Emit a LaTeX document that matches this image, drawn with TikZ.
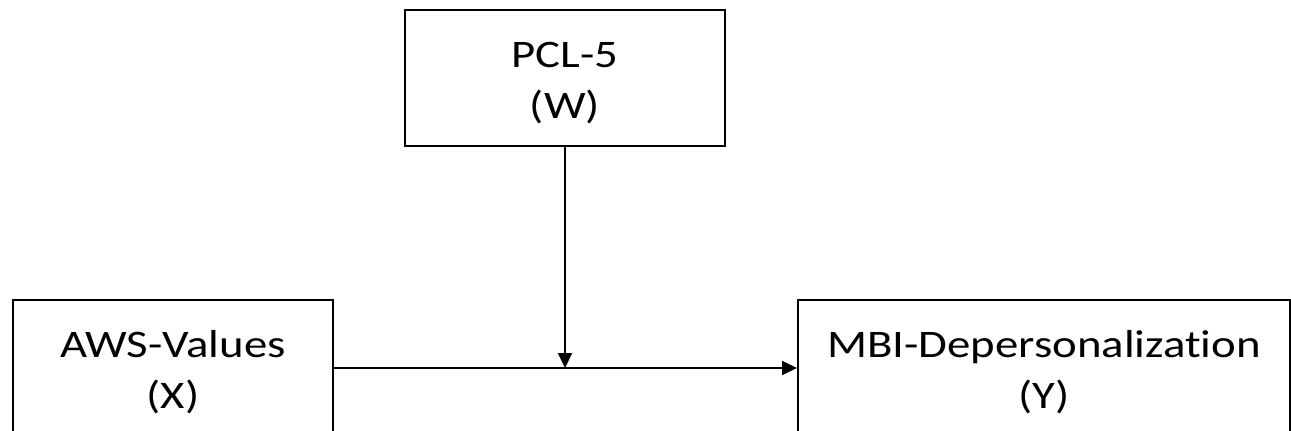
\documentclass[tikz,border=0pt]{standalone}
\usepackage{fontspec}
\setmainfont{Carlito}[FakeStretch=1.2, Ligatures=NoCommon]
\usetikzlibrary{arrows.meta}
\tikzset{
  varbox/.style={draw=black, line width=2pt, rectangle, inner sep=0pt,
    minimum height=136pt, align=center, text height=91pt, text depth=10pt,
    font=\fontsize{39}{51}\selectfont},
  conn/.style={draw=black, line width=2pt, -{Triangle[length=15pt,width=14pt]}}
}
\begin{document}
\begin{tikzpicture}[x=1pt,y=-1pt]
\useasboundingbox (0,0) rectangle (1291,431);
\clip (0,0) rectangle (1291,431);
\node[varbox, minimum width=320pt] (pcl) at (565,78) {PCL-5\\(W)};
\node[varbox, minimum width=320pt] (aws) at (173,368) {AWS-Values\\(X)};
\node[varbox, minimum width=492pt] (mbi) at (1044,368) {MBI-Depersonalization\\(Y)};
\coordinate (meet) at (pcl.south |- aws.east);
\draw[conn] (aws.east) -- (mbi.west);
\draw[conn] (pcl.south) -- (meet);
\end{tikzpicture}
\end{document}
